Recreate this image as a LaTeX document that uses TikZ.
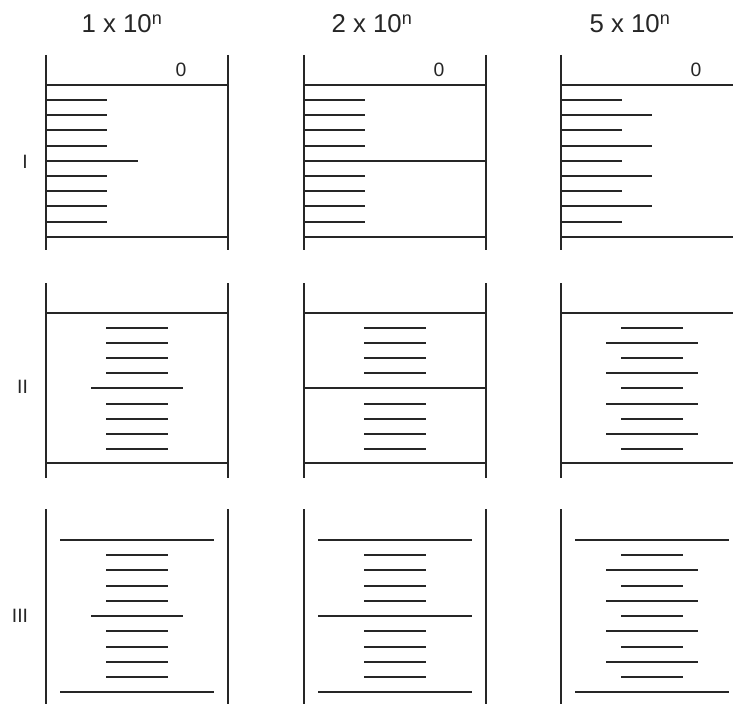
\documentclass[tikz,border=0pt]{standalone}
\usepackage{fontspec}
\setmainfont{Liberation Sans}
\usepackage{tikz}

\begin{document}
\begin{tikzpicture}[x=0.03cm,y=-0.03cm,line cap=butt,
  rail/.style={line width=0.06cm,black!85},
  tickline/.style={line width=0.06cm,black!85},
  headlbl/.style={anchor=base,font=\fontsize{22}{24}\selectfont,black!85},
  zerolbl/.style={anchor=base,font=\fontsize{16.5}{18}\selectfont,black!85},
  rowlbl/.style={font=\fontsize{16.5}{18}\selectfont,black!85}]
\clip (0,0) rectangle (733,703);
\foreach \xl/\kind/\tx in {46/1/76,304/2/68,561/5/69}{
\begin{scope}[shift={(\xl,0)}]
\node[headlbl] (head\kind) at (\tx,33) {\kind{} x 10\textsuperscript{n}};
% row I
\draw[rail] (0,55) -- (0,250) (182,55) -- (182,250);
\draw[rail] (0,85) -- (182,85) (0,237) -- (182,237);
\node[zerolbl] (zero\kind) at (135,77) {0};
\foreach \k in {0,...,8}{
  \pgfmathsetmacro\yy{round(100+15.2*\k)}
  \pgfmathsetmacro\len{\kind==1 ? (\k==4 ? 92 : 61) : (\kind==2 ? (\k==4 ? 182 : 61) : (mod(\k,2)==1 ? 91 : 61))}
  \draw[tickline] (0,\yy) -- (\len,\yy);
}
% row II
\draw[rail] (0,283) -- (0,478) (182,283) -- (182,478);
\draw[rail] (0,313) -- (182,313) (0,463) -- (182,463);
\foreach \k in {0,...,8}{
  \pgfmathsetmacro\yy{round(328+15.1*\k)}
  \pgfmathsetmacro\hw{\kind==1 ? (\k==4 ? 46 : 31) : (\kind==2 ? (\k==4 ? 91 : 31) : (mod(\k,2)==1 ? 46 : 31))}
  \draw[tickline] (91-\hw,\yy) -- (91+\hw,\yy);
}
% row III
\draw[rail] (0,509) -- (0,710) (182,509) -- (182,710);
\draw[rail] (14,540) -- (168,540) (14,692) -- (168,692);
\foreach \k in {0,...,8}{
  \pgfmathsetmacro\yy{round(555+15.25*\k)}
  \pgfmathsetmacro\hw{\kind==1 ? (\k==4 ? 46 : 31) : (\kind==2 ? (\k==4 ? 77 : 31) : (mod(\k,2)==1 ? 46 : 31))}
  \draw[tickline] (91-\hw,\yy) -- (91+\hw,\yy);
}
\end{scope}
}
\node[rowlbl] (rowI) at (25,162) {I};
\node[rowlbl] (rowII) at (22.5,387) {II};
\node[rowlbl] (rowIII) at (20,616) {III};
\end{tikzpicture}
\end{document}
